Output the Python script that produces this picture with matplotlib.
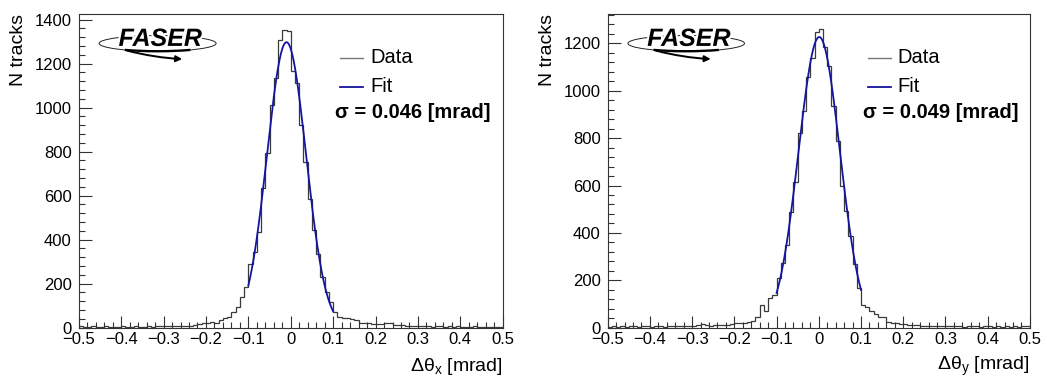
import numpy as np
import matplotlib
matplotlib.use('Agg')
import matplotlib.pyplot as plt
import matplotlib.patheffects as pe
from matplotlib.ticker import MultipleLocator, FuncFormatter
from matplotlib.patches import Ellipse, Arc

plt.rcParams['font.family'] = ['Liberation Sans', 'DejaVu Sans']
plt.rcParams['mathtext.default'] = 'regular'

# histogram binning (100 bins from -0.5 to 0.5 mrad)
bin_lo, bin_hi, n_bins = -0.5, 0.5, 100

# delta theta x, counts per bin
counts_x = [
    6, 4, 5, 7, 3, 5, 6, 4, 5, 3,
    6, 4, 5, 7, 5, 4, 6, 5, 7, 6,
    8, 7, 6, 6, 8, 8, 9, 11, 15, 20,
    20, 24, 23, 35, 45, 50, 73, 95, 138, 186,
    290, 345, 433, 633, 792, 1013, 1133, 1305, 1354, 1350,
    1165, 1110, 920, 752, 585, 445, 335, 228, 162, 116,
    72, 48, 42, 42, 38, 35, 22, 20, 20, 19,
    18, 17, 22, 21, 14, 13, 12, 9, 8, 7,
    9, 6, 8, 5, 7, 6, 4, 6, 5, 7,
    4, 5, 3, 6, 4, 5, 3, 4, 5, 3,
]

# delta theta y, counts per bin
counts_y = [
    4, 5, 3, 6, 4, 5, 6, 4, 5, 7,
    4, 6, 5, 4, 6, 5, 7, 6, 8, 7,
    9, 12, 14, 12, 9, 10, 11, 12, 13, 15,
    18, 20, 19, 22, 28, 46, 96, 70, 127, 138,
    208, 272, 350, 490, 614, 821, 916, 1059, 1140, 1250,
    1261, 1185, 1103, 935, 787, 596, 494, 388, 268, 166,
    96, 86, 70, 58, 46, 44, 25, 21, 18, 16,
    15, 12, 10, 11, 8, 9, 7, 8, 6, 7,
    5, 6, 8, 5, 4, 6, 5, 7, 4, 5,
    6, 4, 5, 3, 5, 4, 6, 3, 5, 7,
]

# gaussian fit parameters (amplitude, mean, sigma) and fit range
fit_x = (1297, -0.010, 0.046)
fit_y = (1227, 0.001, 0.049)
fit_range = (-0.1, 0.1)

panels = [
    dict(counts=counts_x, fit=fit_x, ymax=1424, xlabel='Δθ$_{x}$ [mrad]',
         sigma_txt='σ = 0.046 [mrad]', rect=[0.0752, 0.1354, 0.405, 0.827]),
    dict(counts=counts_y, fit=fit_y, ymax=1323, xlabel='Δθ$_{y}$ [mrad]',
         sigma_txt='σ = 0.049 [mrad]', rect=[0.5804, 0.1354, 0.4033, 0.827]),
]

hist_color = '#3a3a3a'
fit_color = '#1414a0'


def fmt_x(v, _):
    if abs(v) < 1e-9:
        return '0'
    return f'{v:.1f}'.replace('-', '\u2212')


def faser_logo(ax):
    # swoosh ellipse: thin on top, heavier underneath
    ax.add_patch(Ellipse((0.186, 0.907), 0.276, 0.05, transform=ax.transAxes,
                         fill=False, lw=0.7, ec='#222222'))
    ax.add_patch(Arc((0.186, 0.907), 0.276, 0.05, theta1=195, theta2=345,
                     transform=ax.transAxes, lw=1.7, color='black'))
    ax.text(0.192, 0.899, 'FASER', transform=ax.transAxes, ha='center', va='baseline',
            fontsize=18, fontweight='bold', fontstyle='italic', color='black',
            path_effects=[pe.withStroke(linewidth=3, foreground='white')])
    ax.annotate('', xy=(0.244, 0.857), xytext=(0.114, 0.884),
                xycoords='axes fraction', textcoords='axes fraction',
                arrowprops=dict(arrowstyle='-|>', lw=1.4, color='black',
                                mutation_scale=9, shrinkA=0, shrinkB=0,
                                connectionstyle='arc3,rad=0.05'))


fig = plt.figure(figsize=(10.47, 3.79), dpi=100)
edges = np.linspace(bin_lo, bin_hi, n_bins + 1)

for p in panels:
    ax = fig.add_axes(p['rect'])
    ax.stairs(p['counts'], edges, color=hist_color, lw=0.9, baseline=0)

    amp, mu, sig = p['fit']
    xf = np.linspace(fit_range[0], fit_range[1], 200)
    ax.plot(xf, amp * np.exp(-0.5 * ((xf - mu) / sig) ** 2), color=fit_color, lw=1.3)

    ax.set_xlim(bin_lo, bin_hi)
    ax.set_ylim(0, p['ymax'])
    ax.xaxis.set_major_locator(MultipleLocator(0.1))
    ax.xaxis.set_minor_locator(MultipleLocator(0.02))
    ax.yaxis.set_major_locator(MultipleLocator(200))
    ax.yaxis.set_minor_locator(MultipleLocator(40))
    ax.xaxis.set_major_formatter(FuncFormatter(fmt_x))
    ax.tick_params(which='both', direction='in', top=False, right=False,
                   width=0.8, color='#333333', labelsize=12)
    ax.tick_params(which='major', length=9)
    ax.tick_params(which='minor', length=4.5)
    ax.tick_params(axis='x', pad=3)
    ax.tick_params(axis='y', pad=5)
    for s in ax.spines.values():
        s.set_linewidth(0.8)
        s.set_color('#333333')

    ax.text(1.0, -0.125, p['xlabel'], transform=ax.transAxes, ha='right',
            va='center', fontsize=14)
    ax.text(-0.143, 1.0, 'N tracks', transform=ax.transAxes, ha='center',
            va='top', rotation=90, fontsize=14)

    # legend
    ax.plot([0.616, 0.67], [0.861, 0.861], transform=ax.transAxes,
            color='#777777', lw=1.0, clip_on=False)
    ax.text(0.687, 0.861, 'Data', transform=ax.transAxes, va='center', fontsize=14.5)
    ax.plot([0.616, 0.67], [0.768, 0.768], transform=ax.transAxes,
            color=fit_color, lw=1.3, clip_on=False)
    ax.text(0.687, 0.768, 'Fit', transform=ax.transAxes, va='center', fontsize=14.5)
    ax.text(0.605, 0.685, p['sigma_txt'], transform=ax.transAxes, va='center',
            fontsize=14.5, fontweight='bold')

    faser_logo(ax)

fig.savefig('out.png', dpi=100)
